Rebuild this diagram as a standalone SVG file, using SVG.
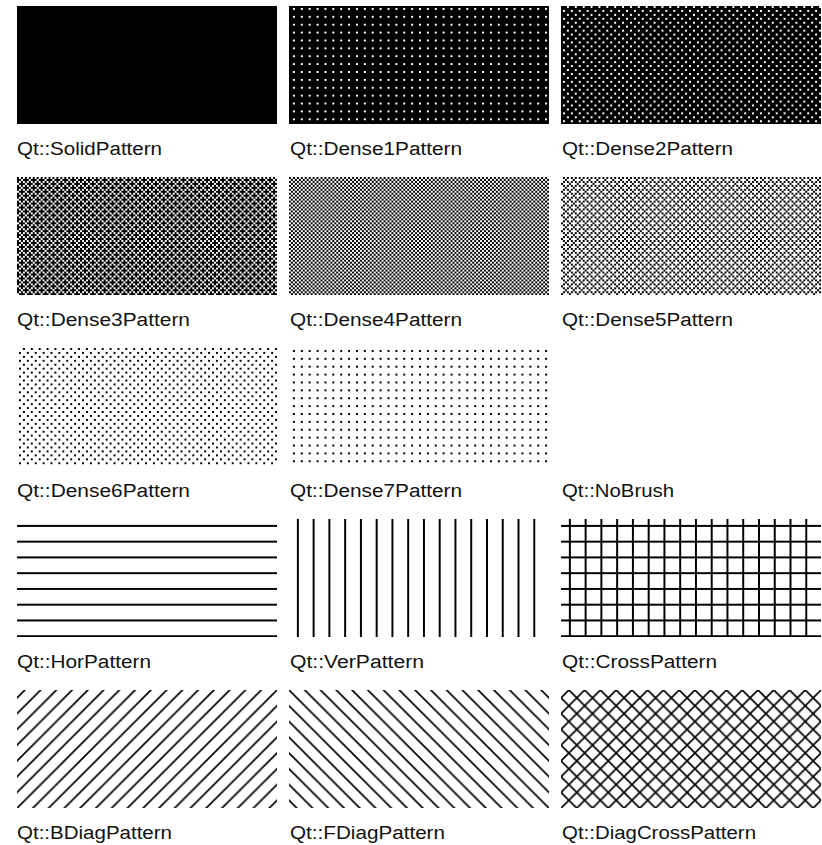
<svg xmlns="http://www.w3.org/2000/svg" width="822" height="845" viewBox="0 0 822 845">
<style>
text{font-family:"Liberation Sans",Arial,sans-serif;font-size:18px;fill:#111;}
.k{fill:#000}
.w{fill:#fff}
.ln{stroke:#000;stroke-width:0.85;fill:none;stroke-linecap:butt}
</style>
<defs>
<pattern id="d1" width="8" height="8" patternUnits="userSpaceOnUse" patternTransform="translate(289 6) scale(1.97)">
<rect class="k" width="8" height="8"/>
<path class="w" d="M2 1h1v1h-1zM6 1h1v1h-1zM2 5h1v1h-1zM6 5h1v1h-1z"/>
</pattern>
<pattern id="d2" width="8" height="8" patternUnits="userSpaceOnUse" patternTransform="translate(561 6) scale(1.97)">
<rect class="k" width="8" height="8"/>
<path class="w" d="M3 0h1v1h-1zM7 0h1v1h-1zM1 2h1v1h-1zM5 2h1v1h-1zM3 4h1v1h-1zM7 4h1v1h-1zM1 6h1v1h-1zM5 6h1v1h-1z"/>
</pattern>
<pattern id="d3" width="8" height="8" patternUnits="userSpaceOnUse" patternTransform="translate(17 177) scale(1.97)">
<rect class="k" width="8" height="8"/>
<path class="w" d="M1 0h1v1h-1zM3 0h1v1h-1zM5 0h1v1h-1zM7 0h1v1h-1zM2 1h1v1h-1zM6 1h1v1h-1zM1 2h1v1h-1zM3 2h1v1h-1zM5 2h1v1h-1zM7 2h1v1h-1zM0 3h1v1h-1zM4 3h1v1h-1zM1 4h1v1h-1zM3 4h1v1h-1zM5 4h1v1h-1zM7 4h1v1h-1zM2 5h1v1h-1zM6 5h1v1h-1zM1 6h1v1h-1zM3 6h1v1h-1zM5 6h1v1h-1zM7 6h1v1h-1zM0 7h1v1h-1zM4 7h1v1h-1z"/>
</pattern>
<pattern id="d4" width="2" height="2" patternUnits="userSpaceOnUse" patternTransform="translate(289 177) scale(1.97)">
<rect class="w" width="2" height="2"/>
<path class="k" d="M0 0h1v1h-1zM1 1h1v1h-1z"/>
</pattern>
<pattern id="d5" width="8" height="8" patternUnits="userSpaceOnUse" patternTransform="translate(561 177) scale(1.97)">
<rect class="w" width="8" height="8"/>
<path class="k" d="M1 0h1v1h-1zM3 0h1v1h-1zM5 0h1v1h-1zM7 0h1v1h-1zM2 1h1v1h-1zM6 1h1v1h-1zM1 2h1v1h-1zM3 2h1v1h-1zM5 2h1v1h-1zM7 2h1v1h-1zM0 3h1v1h-1zM4 3h1v1h-1zM1 4h1v1h-1zM3 4h1v1h-1zM5 4h1v1h-1zM7 4h1v1h-1zM2 5h1v1h-1zM6 5h1v1h-1zM1 6h1v1h-1zM3 6h1v1h-1zM5 6h1v1h-1zM7 6h1v1h-1zM0 7h1v1h-1zM4 7h1v1h-1z"/>
</pattern>
<pattern id="d6" width="8" height="8" patternUnits="userSpaceOnUse" patternTransform="translate(17 348) scale(1.97)">
<rect class="w" width="8" height="8"/>
<path class="k" d="M3 0h1v1h-1zM7 0h1v1h-1zM1 2h1v1h-1zM5 2h1v1h-1zM3 4h1v1h-1zM7 4h1v1h-1zM1 6h1v1h-1zM5 6h1v1h-1z"/>
</pattern>
<pattern id="d7" width="8" height="8" patternUnits="userSpaceOnUse" patternTransform="translate(289 348) scale(1.97)">
<rect class="w" width="8" height="8"/>
<path class="k" d="M2 1h1v1h-1zM6 1h1v1h-1zM2 5h1v1h-1zM6 5h1v1h-1z"/>
</pattern>
<pattern id="hor" width="8" height="8" patternUnits="userSpaceOnUse" patternTransform="translate(17 519) scale(1.97)">
<rect class="k" x="0" y="3" width="8" height="1"/>
</pattern>
<pattern id="ver" width="8" height="8" patternUnits="userSpaceOnUse" patternTransform="translate(289 519) scale(1.97)">
<rect class="k" x="4" y="0" width="1" height="8"/>
</pattern>
<pattern id="cross" width="8" height="8" patternUnits="userSpaceOnUse" patternTransform="translate(561 519) scale(1.97)">
<rect class="k" x="0" y="3" width="8" height="1"/>
<rect class="k" x="4" y="0" width="1" height="8"/>
</pattern>
<pattern id="bdiag" width="8" height="8" patternUnits="userSpaceOnUse" patternTransform="translate(17 690) scale(1.97)">
<path class="ln" d="M4.5 -0.5L-0.5 4.5M8.5 3.5L3.5 8.5"/>
</pattern>
<pattern id="fdiag" width="8" height="8" patternUnits="userSpaceOnUse" patternTransform="translate(289 690) scale(1.97)">
<path class="ln" d="M-0.5 -0.5L8.5 8.5M7.5 -0.5L8.5 0.5M-0.5 7.5L0.5 8.5"/>
</pattern>
<pattern id="dcross" width="8" height="8" patternUnits="userSpaceOnUse" patternTransform="translate(561 690) scale(1.97)">
<path class="ln" d="M4.5 -0.5L-0.5 4.5M8.5 3.5L3.5 8.5M3.5 -0.5L8.5 4.5M-0.5 3.5L4.5 8.5"/>
</pattern>
</defs>
<rect width="822" height="845" fill="#fff"/>
<g id="solid"><rect x="17" y="6" width="260" height="118" fill="#000"/><text x="17" y="155" textLength="145" lengthAdjust="spacingAndGlyphs">Qt::SolidPattern</text></g>
<g id="dense1"><rect x="289" y="6" width="260" height="118" fill="url(#d1)"/><text x="290" y="155" textLength="172" lengthAdjust="spacingAndGlyphs">Qt::Dense1Pattern</text></g>
<g id="dense2"><rect x="561" y="6" width="260" height="118" fill="url(#d2)"/><text x="562" y="155" textLength="171" lengthAdjust="spacingAndGlyphs">Qt::Dense2Pattern</text></g>
<g id="dense3"><rect x="17" y="177" width="260" height="118" fill="url(#d3)"/><text x="17" y="326" textLength="173" lengthAdjust="spacingAndGlyphs">Qt::Dense3Pattern</text></g>
<g id="dense4"><rect x="289" y="177" width="260" height="118" fill="url(#d4)"/><text x="290" y="326" textLength="172" lengthAdjust="spacingAndGlyphs">Qt::Dense4Pattern</text></g>
<g id="dense5"><rect x="561" y="177" width="260" height="118" fill="url(#d5)"/><text x="562" y="326" textLength="171" lengthAdjust="spacingAndGlyphs">Qt::Dense5Pattern</text></g>
<g id="dense6"><rect x="17" y="348" width="260" height="118" fill="url(#d6)"/><text x="17" y="497" textLength="173" lengthAdjust="spacingAndGlyphs">Qt::Dense6Pattern</text></g>
<g id="dense7"><rect x="289" y="348" width="260" height="118" fill="url(#d7)"/><text x="290" y="497" textLength="172" lengthAdjust="spacingAndGlyphs">Qt::Dense7Pattern</text></g>
<g id="nobrush"><text x="562" y="497" textLength="112" lengthAdjust="spacingAndGlyphs">Qt::NoBrush</text></g>
<g id="horpattern"><rect x="17" y="519" width="260" height="118" fill="url(#hor)"/><text x="17" y="668" textLength="134" lengthAdjust="spacingAndGlyphs">Qt::HorPattern</text></g>
<g id="verpattern"><rect x="289" y="519" width="260" height="118" fill="url(#ver)"/><text x="290" y="668" textLength="134" lengthAdjust="spacingAndGlyphs">Qt::VerPattern</text></g>
<g id="crosspattern"><rect x="561" y="519" width="260" height="118" fill="url(#cross)"/><text x="562" y="668" textLength="155" lengthAdjust="spacingAndGlyphs">Qt::CrossPattern</text></g>
<g id="bdiagpattern"><rect x="17" y="690" width="260" height="118" fill="url(#bdiag)"/><text x="17" y="839" textLength="155" lengthAdjust="spacingAndGlyphs">Qt::BDiagPattern</text></g>
<g id="fdiagpattern"><rect x="289" y="690" width="260" height="118" fill="url(#fdiag)"/><text x="290" y="839" textLength="155" lengthAdjust="spacingAndGlyphs">Qt::FDiagPattern</text></g>
<g id="diagcrosspattern"><rect x="561" y="690" width="260" height="118" fill="url(#dcross)"/><text x="562" y="839" textLength="194" lengthAdjust="spacingAndGlyphs">Qt::DiagCrossPattern</text></g>
<g id="connectors"/>
</svg>
